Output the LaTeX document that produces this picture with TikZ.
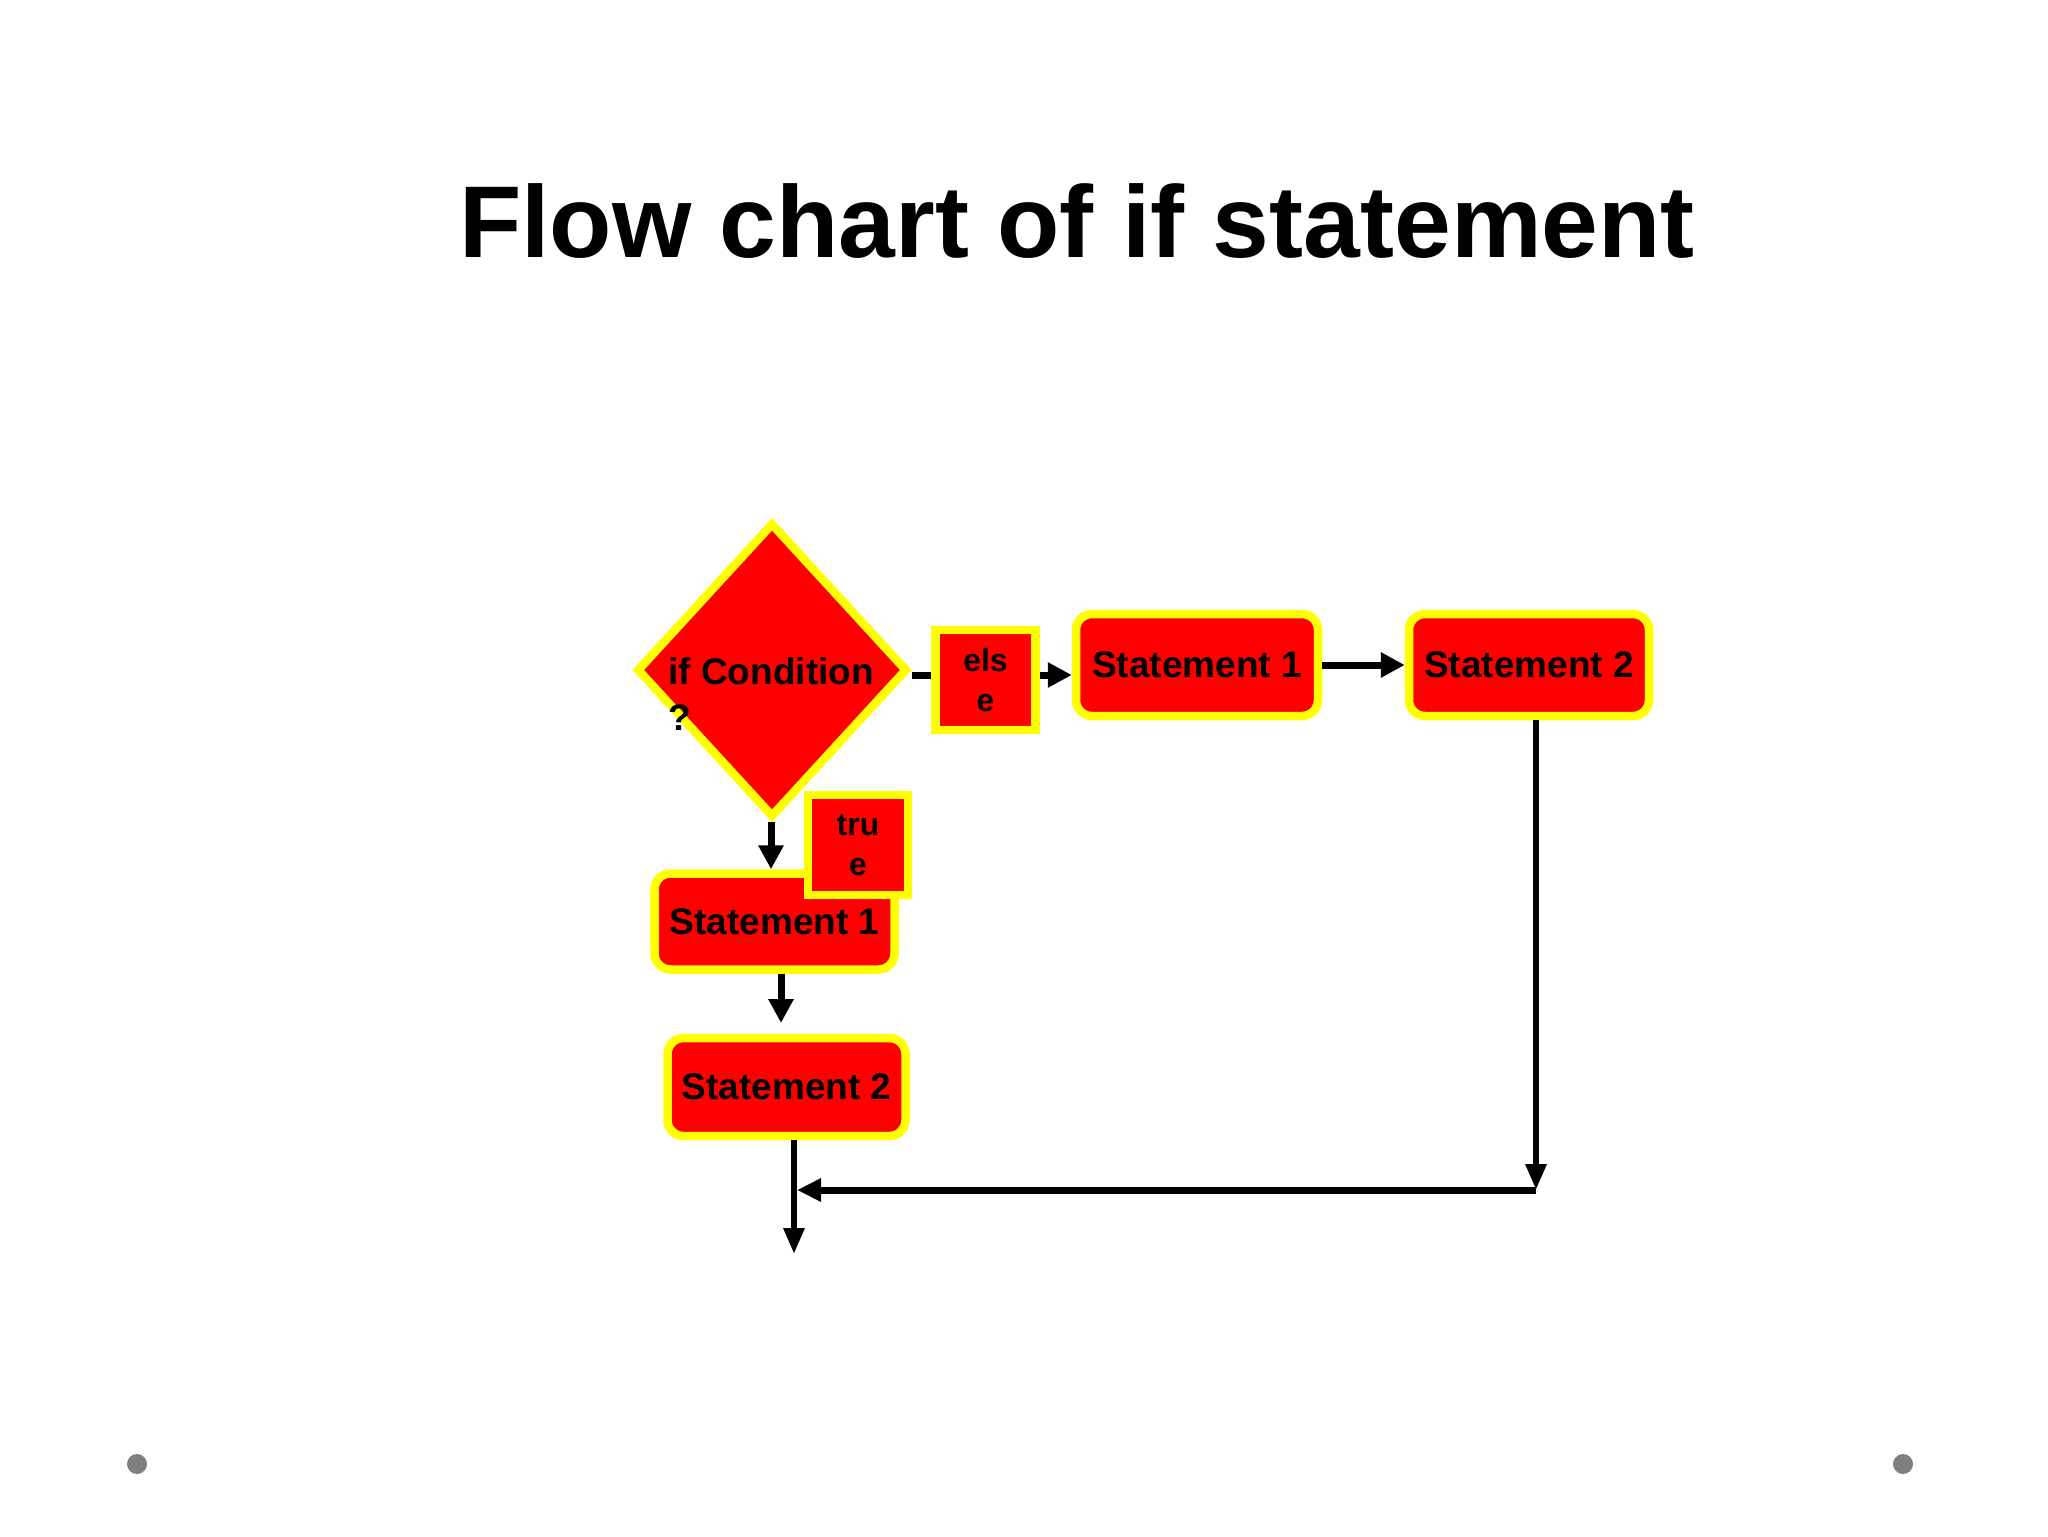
\documentclass[tikz,border=0pt]{standalone}
\usepackage{fontspec}
\setmainfont{Liberation Sans}
\usetikzlibrary{shapes.geometric,arrows.meta,calc}
\definecolor{boxred}{HTML}{FF0000}
\definecolor{boxyel}{HTML}{FFFF00}
\definecolor{dotgray}{HTML}{7F7F7F}
\begin{document}
\begin{tikzpicture}[x=0.5pt,y=-0.5pt,
  stmt/.style={draw=boxyel, fill=boxred, line width=4.25pt, rounded corners=8pt, inner sep=0pt,
    font=\fontsize{18.5}{22}\selectfont\bfseries},
  lbl/.style={draw=boxyel, fill=boxred, line width=4.25pt, minimum width=50pt, minimum height=50pt,
    inner sep=0pt, align=center, font=\fontsize{16}{20}\selectfont\bfseries},
  cond/.style={diamond, draw=boxyel, fill=boxred, line width=4.25pt, minimum width=135.5pt,
    minimum height=147.5pt, inner sep=0pt},
  arr/.style={line width=3.5pt, -{Triangle[length=12pt,width=12pt]}},
  arrthin/.style={line width=3pt, -{Triangle[length=13pt,width=10pt]}},
  arrmid/.style={line width=3.5pt, -{Triangle[length=12pt,width=11pt]}},
  dot/.style={circle, fill=dotgray, inner sep=0pt, minimum size=10pt}
]
\useasboundingbox (0,0) rectangle (2048,1536);

\node[anchor=base, font=\fontsize{51}{60}\selectfont\bfseries] (title) at (1077,257) {Flow chart of if statement};

\node[cond] (cond) at (772,670) {};
\node[anchor=north west, inner sep=0pt, align=left, font=\fontsize{18.5}{23}\selectfont\bfseries] (condtxt) at (668,657) {if Condition\\?};

\node[lbl] (else) at (985.5,680) {els\\e};
\node[stmt, minimum width=121pt, minimum height=51pt] (s1t) at (1197,665) {Statement 1};
\node[stmt, minimum width=120pt, minimum height=51pt] (s2t) at (1529,665) {Statement 2};
\node[stmt, minimum width=120pt, minimum height=48pt] (s1l) at (774.5,921.5) {Statement 1};
\node[lbl] (true) at (858,845) {tru\\e};
\node[stmt, minimum width=119pt, minimum height=49pt] (s2l) at (786.5,1087) {Statement 2};

\node[dot] (dl) at (137,1464) {};
\node[dot] (dr) at (1903,1464) {};

\coordinate (ey) at (0,675);
\coordinate (t1) at (771,869);
\coordinate (t2) at (781,1023);
\coordinate (rj) at (1536,1190);
\coordinate (mjtip) at (797,1190);
\coordinate (endp) at (794,1254);

\draw[line width=3.5pt] (cond.east |- ey) -- (else.west |- ey);
\draw[arr] (else.east |- ey) -- (s1t.west |- ey);
\draw[arr] (s1t.east) -- (s2t.west);
\draw[arr] (cond.south -| t1) -- (s1l.north -| t1);
\draw[arr] (s1l.south -| t2) -- (t2);
\draw[arrthin] (s2t.south -| rj) -- (rj);
\draw[arrmid] (rj) -- (mjtip);
\draw[arrthin] (s2l.south -| endp) -- (endp);
\end{tikzpicture}
\end{document}
